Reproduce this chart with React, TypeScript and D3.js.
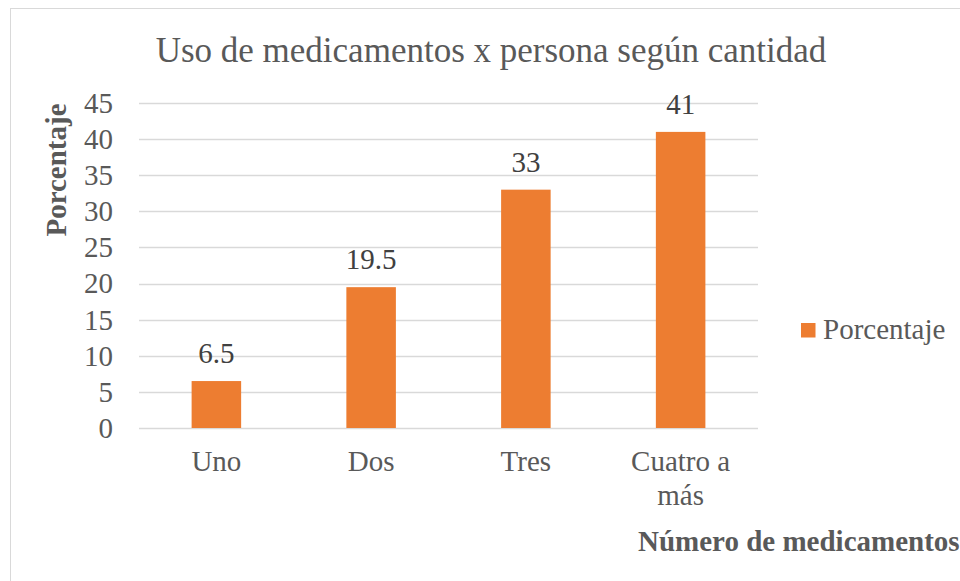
import React, { useEffect, useRef } from 'react';
import * as d3 from 'd3';

const categories = [['Uno'], ['Dos'], ['Tres'], ['Cuatro a', 'más']];
const values = [6.5, 19.5, 33, 41];
const yTicks = [0, 5, 10, 15, 20, 25, 30, 35, 40, 45];
const seriesName = 'Porcentaje';

const WIDTH = 960;
const HEIGHT = 581;
const FONT = "'Times New Roman', 'Liberation Serif', 'DejaVu Serif', serif";

const App = () => {
  const svgRef = useRef<SVGSVGElement>(null);

  useEffect(() => {
    document.body.style.margin = '0';
    const svg = d3.select(svgRef.current).html('');

    // chart frame
    svg.append('rect')
      .attr('x', 10.5).attr('y', 8.5)
      .attr('width', WIDTH).attr('height', HEIGHT)
      .attr('fill', '#fff')
      .attr('stroke', '#d9d9d9');

    const plot = { left: 139, right: 758, top: 103, bottom: 428 };

    const x = d3.scaleBand<number>()
      .domain(d3.range(categories.length))
      .range([plot.left, plot.right])
      .paddingInner(0.68)
      .paddingOuter(0.34);

    const y = d3.scaleLinear().domain([0, 45]).range([plot.bottom, plot.top]);

    // gridlines
    svg.append('g').selectAll('line').data(yTicks).enter().append('line')
      .attr('x1', plot.left).attr('x2', plot.right)
      .attr('y1', d => Math.round(y(d)) + 0.5).attr('y2', d => Math.round(y(d)) + 0.5)
      .attr('stroke', '#d9d9d9').attr('stroke-width', 1.3);

    // tick labels
    svg.append('g').selectAll('text').data(yTicks).enter().append('text')
      .attr('x', 113).attr('y', d => y(d)).attr('dy', '0.34em')
      .attr('text-anchor', 'end')
      .style('font-family', FONT).attr('font-size', 29).attr('fill', '#595959')
      .text(d => d);

    // bars
    svg.append('g').selectAll('rect').data(values).enter().append('rect')
      .attr('x', (d, i) => x(i)!)
      .attr('width', x.bandwidth())
      .attr('y', d => y(d))
      .attr('height', d => y(0) - y(d))
      .attr('fill', '#ed7d31');

    // data labels
    svg.append('g').selectAll('text').data(values).enter().append('text')
      .attr('x', (d, i) => x(i)! + x.bandwidth() / 2)
      .attr('y', d => y(d) - 18)
      .attr('text-anchor', 'middle')
      .style('font-family', FONT).attr('font-size', 29).attr('fill', '#404040')
      .text(d => d);

    // category labels
    const cat = svg.append('g').selectAll('text').data(categories).enter().append('text')
      .attr('text-anchor', 'middle')
      .style('font-family', FONT).attr('font-size', 29).attr('fill', '#595959');
    cat.selectAll('tspan').data((d, i) => d.map(s => ({ s, i }))).enter().append('tspan')
      .attr('x', d => x(d.i)! + x.bandwidth() / 2)
      .attr('y', (d, j) => 471 + j * 34)
      .text(d => d.s);

    // title
    svg.append('text')
      .attr('x', 491).attr('y', 62)
      .attr('text-anchor', 'middle')
      .style('font-family', FONT).attr('font-size', 35).attr('fill', '#595959')
      .text('Uso de medicamentos x persona según cantidad');

    // y axis title
    svg.append('text')
      .attr('transform', 'translate(66,170) rotate(-90)')
      .attr('text-anchor', 'middle')
      .style('font-family', FONT).attr('font-size', 29).attr('font-weight', 'bold')
      .attr('fill', '#595959')
      .text('Porcentaje');

    // x axis title
    svg.append('text')
      .attr('x', 638).attr('y', 551)
      .style('font-family', FONT).attr('font-size', 29).attr('font-weight', 'bold')
      .attr('fill', '#595959')
      .text('Número de medicamentos');

    // legend
    const lg = svg.append('g').attr('transform', 'translate(801,323)');
    lg.append('rect').attr('width', 14.5).attr('height', 14.5).attr('fill', '#ed7d31');
    lg.append('text')
      .attr('x', 22).attr('y', 16)
      .style('font-family', FONT).attr('font-size', 29).attr('fill', '#595959')
      .text(seriesName);
  }, []);

  return <svg ref={svgRef} width={WIDTH} height={HEIGHT} style={{ display: 'block' }} />;
};

export default App;
